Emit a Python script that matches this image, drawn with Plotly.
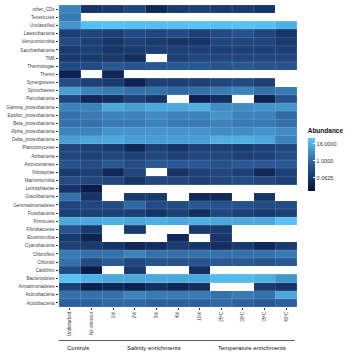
import numpy as np
import plotly.graph_objects as go

samples = ["Undisturbed", "No stressor", "1%", "2%", "3%", "4%", "10%",
           "25ºC", "30ºC", "35ºC", "40ºC"]
groups = ["Controls", "Salinity enrichments", "Temperature enrichments"]
group_sizes = [2, 5, 4]

phyla = ["other_CDs", "Tenericutes", "Unclassified", "Latescibacteria", "Verrucomicrobia",
         "Saccharibacteria", "TM6", "Thermotogae", "Thermi", "Synergistetes", "Spirochaetes",
         "Parcubacteria", "Gamma_proteobacteria", "Epsilon_proteobacteria", "Beta_proteobacteria",
         "Alpha_proteobacteria", "Delta_proteobacteria", "Planctomycetes", "Atribacteria",
         "Aminicenantes", "Nitrospirae", "Marinimicrobia", "Lentisphaerae", "Gracilibacteria",
         "Gemmatimonadetes", "Fusobacteria", "Firmicutes", "Fibrobacteres", "Elusimicrobia",
         "Cyanobacteria", "Chloroflexi", "Chlorobi", "Caldithrix", "Bacteroidetes",
         "Armatimonadetes", "Actinobacteria", "Acidobacteria"]

N = None
abundance = [
    [2.83, 0.0625, 0.088, 0.18, 0.031, 0.088, 0.125, 0.088, 0.088, 0.0625, N],
    [2, N, N, N, N, N, N, N, N, N, N],
    [5.66, 30, 32, 30, 28, 30, 32, 30, 32, 30, 16],
    [0.125, 0.18, 0.125, 0.25, 0.18, 0.25, 0.125, 0.25, 0.35, 0.18, 0.0625],
    [0.25, 0.125, 0.0625, 0.125, 0.088, 0.0625, 0.0625, 0.18, 0.18, 0.18, 0.088],
    [0.088, 0.125, 0.0625, 0.088, 0.125, 0.125, 0.125, 0.125, 0.125, 0.125, 0.125],
    [0.088, 0.088, 0.088, 0.044, N, 0.125, 0.18, 0.18, 0.18, 0.18, 0.18],
    [0.25, 0.25, 0.5, 0.35, 0.5, 0.5, 0.5, 0.35, 0.5, 0.35, 0.35],
    [0.022, N, 0.031, N, N, N, N, N, N, N, N],
    [0.25, 0.125, 0.088, 0.022, 0.125, 0.125, 0.125, 0.18, 0.25, 0.125, N],
    [8, 2.83, 2, 1.41, 1.41, 1, 1.41, 2, 2.83, 1.41, 2],
    [0.18, 0.031, 0.044, 0.125, 0.0625, N, 0.022, 0.044, N, 0.022, 0.35],
    [2.83, 2.83, 11.3, 8, 11.3, 11.3, 16, 4, 4, 5.66, 5.66],
    [1.41, 2, 2.83, 2.83, 4, 2.83, 2.83, 5.66, 2.83, 2.83, 1],
    [1.41, 1.41, 2, 2, 2.83, 2, 2, 2.83, 2, 2, 1.41],
    [2.83, 2.83, 5.66, 5.66, 5.66, 5.66, 5.66, 4, 4, 5.66, 4],
    [8, 11.3, 11.3, 8, 8, 8, 8, 16, 16, 11.3, 2.83],
    [0.18, 0.125, 0.088, 0.031, 0.125, 0.0625, 0.125, 0.125, 0.088, 0.125, 0.18],
    [0.18, 0.125, 0.18, 0.125, 0.18, 0.125, 0.18, 0.18, 0.125, 0.125, 0.25],
    [0.35, 0.25, 0.5, 0.25, 0.5, 0.5, 0.5, 0.35, 0.5, 0.5, 0.5],
    [0.088, 0.125, 0.031, 0.18, N, 0.0625, 0.125, 0.18, 0.125, 0.031, 0.125],
    [0.25, 0.18, 0.18, 0.0625, 0.18, 0.18, 0.125, 0.18, 0.25, 0.18, 0.125],
    [0.0625, 0.0156, N, N, N, N, N, N, N, N, N],
    [1.41, 0.0625, N, 0.088, 0.088, N, 0.031, 0.031, N, 0.0625, N],
    [0.18, 0.18, 0.25, 1, 0.25, 0.25, 0.5, 0.35, 0.35, 0.25, 0.25],
    [0.125, 0.125, 0.125, 0.125, 0.0625, 0.125, 0.044, 0.18, 0.125, 0.088, 0.125],
    [11.3, 11.3, 16, 11.3, 16, 11.3, 16, 11.3, 11.3, 11.3, 32],
    [0.35, 0.088, N, 0.088, N, N, 0.088, 0.088, N, N, N],
    [0.088, 0.022, N, N, N, 0.031, N, 0.0625, N, N, N],
    [0.125, 0.088, 0.0625, 0.031, 0.044, 0.088, 0.0625, 0.044, 0.088, 0.031, 0.088],
    [2, 1.41, 1.41, 2.83, 1.41, 1.41, 1.41, 1.41, 1.41, 1.41, 2],
    [1.41, 0.25, 0.5, 0.18, 0.35, 0.35, 0.35, 0.5, 0.5, 0.35, 0.5],
    [0.25, 0.0156, N, 0.088, N, N, 0.044, N, N, N, N],
    [32, 16, 11.3, 11.3, 11.3, 11.3, 11.3, 22.6, 22.6, 16, 5.66],
    [0.125, 0.022, 0.031, 0.022, 0.044, 0.031, 0.044, N, N, 0.088, 0.0625],
    [1.41, 1.41, 1.41, 2.83, 2, 2, 2, 1.41, 2, 1.41, 11.3],
    [0.71, 0.71, 1, 1, 0.71, 0.71, 0.71, 1, 0.71, 0.5, 0.71],
]
legend_ticks = [0.0625, 1.0, 16.0]

FONT = "Liberation Sans, Arial, Helvetica, sans-serif"

z = [[(np.log2(v) if v is not None else None) for v in row] for row in abundance]

fig = go.Figure()
fig.add_trace(go.Heatmap(
    z=z, x=list(range(len(samples))), y=list(range(len(phyla))),
    zmin=-7.0, zmax=5.5,
    colorscale=[[0.0, "#04113a"], [0.5, "#2a5a97"], [1.0, "#5ccbfb"]],
    hoverongaps=False,
    colorbar=dict(
        title=dict(text="<b>Abundance</b>", side="top",
                   font=dict(size=6.5, color="#111", family=FONT)),
        tickvals=list(np.log2(legend_ticks)),
        ticktext=["%.4f" % t for t in legend_ticks],
        ticks="inside", ticklen=2, tickcolor="white", tickwidth=0.6,
        tickfont=dict(size=5.5, color="#333", family=FONT),
        thickness=7, len=0.215, lenmode="fraction",
        x=1.045, xanchor="left", y=0.493, yanchor="middle",
        outlinewidth=0, xpad=0, ypad=0,
    ),
))

shapes = []
ncol, nrow = len(samples), len(phyla)
for i in range(ncol + 1):
    shapes.append(dict(type="line", xref="x", yref="y", x0=i - 0.5, x1=i - 0.5,
                       y0=-0.5, y1=nrow - 0.5, layer="above",
                       line=dict(color="rgba(255,255,255,0.3)", width=0.5)))
for j in range(nrow + 1):
    shapes.append(dict(type="line", xref="x", yref="y", x0=-0.5, x1=ncol - 0.5,
                       y0=j - 0.5, y1=j - 0.5, layer="above",
                       line=dict(color="rgba(255,255,255,0.3)", width=0.5)))

annotations = []
start = 0
for g, n in zip(groups, group_sizes):
    x0, x1 = start - 0.6, start + n - 1 + 0.4
    shapes.append(dict(type="line", xref="x", yref="paper", x0=x0, x1=x1,
                       y0=-0.111, y1=-0.111, line=dict(color="#333", width=0.8)))
    annotations.append(dict(text=g, xref="x", yref="paper", x=(x0 + x1) / 2, y=-0.118,
                            yanchor="top", showarrow=False,
                            font=dict(size=6, color="#111", family=FONT)))
    start += n

fig.update_layout(
    width=355, height=353,
    margin=dict(l=59, r=58, t=5, b=46),
    paper_bgcolor="white", plot_bgcolor="white",
    font=dict(family=FONT),
    shapes=shapes, annotations=annotations,
    xaxis=dict(tickmode="array", tickvals=list(range(ncol)), ticktext=samples,
               tickangle=-90, ticks="outside", ticklen=2, tickcolor="#333", tickwidth=0.6,
               tickfont=dict(size=4.5, color="#444", family=FONT),
               showgrid=False, zeroline=False, range=[-0.5, ncol - 0.5], fixedrange=True),
    yaxis=dict(tickmode="array", tickvals=list(range(nrow)), ticktext=phyla,
               ticks="outside", ticklen=2.5, tickcolor="#333", tickwidth=0.6,
               tickfont=dict(size=4.6, color="#444", family=FONT),
               showgrid=False, zeroline=False, range=[nrow - 0.5, -0.5], fixedrange=True),
)

fig.write_html("out.html")
